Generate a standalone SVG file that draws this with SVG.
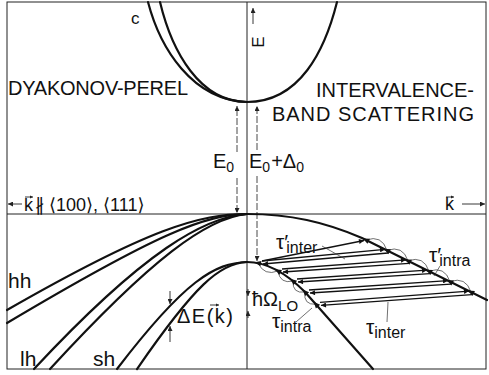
<svg xmlns="http://www.w3.org/2000/svg" width="489" height="375" viewBox="0 0 489 375">
<defs>
<style>
.t{font-family:"Liberation Sans","DejaVu Sans",sans-serif;fill:#111}
.band{fill:none;stroke:#111;stroke-width:2.2;stroke-linecap:round}
.ax{fill:none;stroke:#222;stroke-width:1}
.thin{fill:none;stroke:#222;stroke-width:0.9}
.dash{fill:none;stroke:#333;stroke-width:0.9;stroke-dasharray:7,2}
.arc{fill:none;stroke:#333;stroke-width:0.7}
.ld{fill:none;stroke:#111;stroke-width:1.3}
</style>
<marker id="ah" viewBox="0 0 10 10" refX="10" refY="5" markerWidth="7" markerHeight="5" markerUnits="userSpaceOnUse" orient="auto"><path d="M0,0 L10,5 L0,10 z" fill="#111"/></marker>
<marker id="as" viewBox="0 0 10 10" refX="10" refY="5" markerWidth="6" markerHeight="5" markerUnits="userSpaceOnUse" orient="auto"><path d="M0,0 L10,5 L0,10 z" fill="#222"/></marker>
<path id="tri" d="M-3.5,0 L3,-2.8 L3,2.8 Z" fill="#111"/>
</defs>

<g id="frame">
<rect x="7" y="2" width="479" height="367" class="ax"/>
<line x1="247" y1="2" x2="247" y2="369" class="ax"/>
<line x1="7" y1="214" x2="486" y2="214" class="ax"/>
</g>

<g id="conduction-band">
<path class="band" d="M247,102 C300,102 325,50 337,2"/>
<path class="band" d="M247,102 C200,102 172,52 160,2"/>
<path class="band" d="M247,102 C192,100 160,48 148,2"/>
<text class="t" x="131" y="24" font-size="17">c</text>
</g>

<g id="axis-E">
<line x1="253" y1="24" x2="253" y2="8" class="thin" marker-end="url(#as)"/>
<text class="t" font-size="17" text-anchor="middle" transform="translate(264,42) rotate(-90)">E</text>
</g>

<g id="label-dp">
<text class="t" x="8" y="95" font-size="20" textLength="180">DYAKONOV-PEREL</text>
</g>
<g id="label-ivb">
<text class="t" x="316" y="97" font-size="20" textLength="158">INTERVALENCE-</text>
<text class="t" x="272" y="121" font-size="20" textLength="202">BAND SCATTERING</text>
</g>

<g id="gaps">
<line x1="237" y1="152" x2="237" y2="106" class="dash" marker-end="url(#as)"/>
<line x1="237" y1="178" x2="237" y2="213" class="dash" marker-end="url(#as)"/>
<line x1="257" y1="150" x2="257" y2="106" class="dash" marker-end="url(#as)"/>
<line x1="257" y1="176" x2="257" y2="261" class="dash" marker-end="url(#as)"/>
<text class="t" x="213" y="168" font-size="20">E<tspan font-size="14" dy="4">0</tspan></text>
<text class="t" x="249" y="168" font-size="20">E<tspan font-size="14" dy="4">0</tspan><tspan dy="-4" dx="1">+Δ</tspan><tspan font-size="14" dy="4">0</tspan></text>
</g>

<g id="k-left">
<line x1="22" y1="204" x2="8" y2="204" class="thin" marker-end="url(#as)"/>
<text class="t" x="24" y="211" font-size="18">k</text>
<line x1="25" y1="197" x2="33" y2="197" class="thin" stroke-width="0.7"/>
<path d="M33,197 l-3,-1.5 v3 z" fill="#222"/>
<text class="t" x="35" y="211" font-size="18">∦ ⟨100⟩, ⟨111⟩</text>
</g>
<g id="k-right">
<text class="t" x="445" y="210" font-size="18">k</text>
<line x1="446" y1="197" x2="454" y2="197" class="thin" stroke-width="0.7"/>
<path d="M454,197 l-3,-1.5 v3 z" fill="#222"/>
<line x1="462" y1="204" x2="485" y2="204" class="thin" marker-end="url(#as)"/>
</g>

<g id="hh">
<path class="band" d="M247,214 C200,214 150,228 7,310"/>
<path class="band" d="M247,214 C205,215 160,232 7,323"/>
<text class="t" x="8" y="288" font-size="21">hh</text>
</g>
<g id="lh">
<path class="band" d="M247,214 C205,217 145,250 34,369"/>
<path class="band" d="M247,214 C207,218 152,258 50,369"/>
<text class="t" x="20" y="366" font-size="21">lh</text>
</g>
<g id="sh">
<path class="band" d="M247,262 C215,263 185,280 117,369"/>
<path class="band" d="M247,262 C220,263 195,285 137,369"/>
<text class="t" x="93" y="366" font-size="21">sh</text>
</g>
<g id="deltaE">
<line x1="170" y1="291" x2="170" y2="304" class="thin" marker-end="url(#as)"/>
<line x1="170" y1="342" x2="170" y2="326" class="thin" marker-end="url(#as)"/>
<text class="t" x="177" y="323" font-size="20" textLength="56">ΔE(k)</text>
<line x1="210" y1="305" x2="219" y2="305" class="thin" stroke-width="0.7"/>
<path d="M219,305 l-3,-1.5 v3 z" fill="#222"/>
</g>

<g id="valence-right">
<path class="band" d="M247,214 C290,214 325,222 362,238 L487,300"/>
<path class="band" d="M247,262 C266,262 285,272 305,292 L373,369"/>
</g>

<g id="connectors">
<line x1="262" y1="261" x2="364" y2="240.5" class="ld" marker-end="url(#ah)"/>
<line x1="262" y1="261" x2="385" y2="249.4" class="ld" marker-end="url(#ah)"/>
<line x1="388" y1="253" x2="263" y2="264" class="ld" marker-end="url(#ah)"/>
<line x1="282" y1="269" x2="406" y2="259.8" class="ld" marker-end="url(#ah)"/>
<line x1="409" y1="263.3" x2="283" y2="272" class="ld" marker-end="url(#ah)"/>
<line x1="297" y1="279" x2="427" y2="270.2" class="ld" marker-end="url(#ah)"/>
<line x1="430" y1="273.7" x2="298" y2="282" class="ld" marker-end="url(#ah)"/>
<line x1="309" y1="290" x2="448" y2="280.6" class="ld" marker-end="url(#ah)"/>
<line x1="451" y1="284.1" x2="310" y2="293" class="ld" marker-end="url(#ah)"/>
<line x1="320" y1="302.4" x2="469" y2="291.1" class="ld" marker-end="url(#ah)"/>
<line x1="472" y1="294.6" x2="321" y2="305.4" class="ld" marker-end="url(#ah)"/>
<path class="arc" d="M366,240 Q381.8,234.5 387,250.4"/>
<path class="arc" d="M387,250.4 Q402.8,244.9 408,260.8"/>
<path class="arc" d="M408,260.8 Q423.8,255.3 429,271.2"/>
<path class="arc" d="M429,271.2 Q444.8,265.7 450,281.6"/>
<path class="arc" d="M450,281.6 Q465.8,276.1 471,292.1"/>
<path class="arc" d="M258,263 Q264.3,276.3 278,271"/>
<path class="arc" d="M278,271 Q280,284.3 293,281"/>
<path class="arc" d="M293,281 Q292.3,293.9 305,292"/>
<path class="arc" d="M305,292 Q303,304.8 316,304.4"/>
<use href="#tri" transform="translate(366,240) rotate(26.4)"/>
<use href="#tri" transform="translate(387,250.4) rotate(26.4)"/>
<use href="#tri" transform="translate(408,260.8) rotate(26.4)"/>
<use href="#tri" transform="translate(429,271.2) rotate(26.4)"/>
<use href="#tri" transform="translate(450,281.6) rotate(26.4)"/>
<use href="#tri" transform="translate(471,292.1) rotate(26.4)"/>
<use href="#tri" transform="translate(258,263) rotate(12)"/>
<use href="#tri" transform="translate(278,271) rotate(30)"/>
<use href="#tri" transform="translate(293,281) rotate(39)"/>
<use href="#tri" transform="translate(305,292) rotate(46)"/>
<use href="#tri" transform="translate(316,304.4) rotate(48.5)"/>
<line x1="322" y1="246" x2="345" y2="259" class="arc"/>
<line x1="440" y1="266" x2="434" y2="276" class="arc"/>
<line x1="296" y1="322" x2="312" y2="308" class="arc"/>
<line x1="387" y1="322" x2="388" y2="302" class="arc"/>
<line x1="248" y1="289" x2="248" y2="296" class="thin" stroke-width="0.7" marker-end="url(#as)"/>
<line x1="248" y1="318" x2="248" y2="311" class="thin" stroke-width="0.7" marker-end="url(#as)"/>
</g>

<g id="labels-scatter">
<text class="t" x="276" y="249" font-size="21">τ′<tspan font-size="16" dy="4" dx="-2">inter</tspan></text>
<text class="t" x="429" y="262" font-size="21">τ′<tspan font-size="16" dy="4" dx="-2">intra</tspan></text>
<text class="t" x="272" y="328" font-size="21">τ<tspan font-size="16" dy="4">intra</tspan></text>
<text class="t" x="366" y="334" font-size="21">τ<tspan font-size="16" dy="4">inter</tspan></text>
<text class="t" x="252" y="306" font-size="20">ħΩ<tspan font-size="15" dy="5">LO</tspan></text>
</g>
</svg>
